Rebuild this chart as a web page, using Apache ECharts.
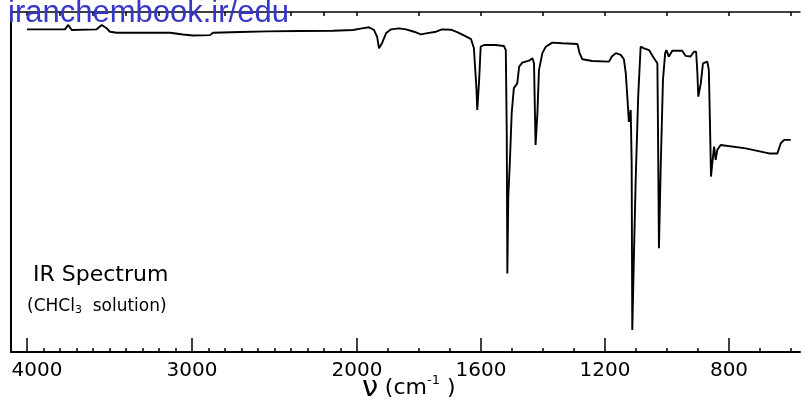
<!DOCTYPE html>
<html>
<head>
<meta charset="utf-8">
<script src="https://cdn.jsdelivr.net/npm/echarts@6/dist/echarts.min.js"></script>
<style>
    html, body { margin: 0; padding: 0; background: #fff; }
    #chart { width: 803px; height: 415px; }
</style>
</head>
<body>
<div id="chart"></div>
<script>
    // 光谱数据: 波数 (cm-1) 与 透过率 (%)
    var wavenumbers = [
        4000, 3770, 3750, 3729, 3721, 3578, 3547, 3517, 3497, 3456,
        3297, 3133, 3055, 2994, 2891, 2873, 2709, 2545, 2345, 2145,
        2024, 1984, 1961, 1945, 1935, 1929, 1919, 1906, 1890, 1865,
        1842, 1816, 1794, 1777, 1745, 1726, 1697, 1677, 1655, 1632,
        1623, 1615, 1612, 1606, 1601, 1590, 1553, 1526, 1520, 1517,
        1515, 1512, 1507, 1501, 1494, 1483, 1477, 1467, 1445, 1434,
        1429, 1426, 1424, 1418, 1413, 1402, 1391, 1370, 1338, 1289,
        1282, 1273, 1241, 1187, 1178, 1165, 1149, 1139, 1133, 1128,
        1123, 1117, 1114, 1112, 1106, 1101, 1093, 1085, 1074, 1058,
        1042, 1031, 1029, 1026, 1020, 1013, 1006, 1002, 994, 983,
        951, 940, 924, 913, 906, 902, 899, 891, 884, 870,
        865, 861, 858, 854, 848, 843, 838, 827, 746, 671,
        644, 633, 622, 601
    ];
    var transmittance = [
        94.9, 94.9, 96.2, 94.7, 94.4, 94.9, 96.2, 95.2, 94.2, 93.9,
        93.9, 93.9, 93.4, 93.1, 93.2, 93.9, 94.1, 94.3, 94.4, 94.5,
        94.7, 95.2, 95.5, 94.7, 92.7, 89.3, 90.9, 93.8, 94.9, 95.2,
        94.9, 94.2, 93.4, 93.7, 94.2, 94.9, 94.8, 94.1, 93.1, 92.0,
        89.4, 78.0, 71.2, 80.0, 89.8, 90.3, 90.3, 90.0, 88.8, 65.3,
        23.1, 45.7, 55.6, 70.3, 77.6, 79.0, 83.9, 85.1, 85.7, 86.4,
        84.9, 70.3, 60.9, 70.3, 82.9, 87.9, 89.8, 91.0, 90.8, 90.6,
        87.9, 86.1, 85.6, 85.4, 86.9, 87.9, 87.4, 86.1, 82.0, 75.1,
        67.7, 71.2, 55.6, 6.5, 31.0, 50.6, 75.1, 89.8, 89.3, 88.8,
        86.4, 84.9, 65.3, 30.5, 55.6, 80.0, 87.9, 88.8, 86.9, 88.6,
        88.6, 87.1, 86.9, 88.3, 88.3, 82.0, 75.1, 79.0, 84.9, 85.4,
        82.9, 65.3, 51.6, 55.5, 60.4, 56.5, 59.4, 60.9, 59.9, 58.4,
        58.4, 61.4, 62.4, 62.4
    ];
    var majorTicks = [4000, 3000, 2000, 1600, 1200, 800];

    // 横轴分段: 4000-2000 压缩, 2000以下展开
    function pos(wn) {
        return wn >= 2000 ? (4000 - wn) * 0.165 : 330 + (2000 - wn) * 0.31;
    }

    var majorPos = majorTicks.map(pos);
    var minorPos = [], topPos = [];
    for (var w = 3900; w >= 600; w -= 100) minorPos.push(pos(w));
    for (var w2 = 4000; w2 >= 600; w2 -= 200) topPos.push(pos(w2));

    var lineData = wavenumbers.map(function(wn, i) {
        return [pos(wn), transmittance[i]];
    });

    var xMin = -16, xMax = 773;
    var black = '#000';

    var myChart = echarts.init(document.getElementById('chart'));
    var option = {
        animation: false,
        grid: { left: 11, right: 3, top: 12, bottom: 63 },
        xAxis: [{
            type: 'value', position: 'bottom', min: xMin, max: xMax,
            axisLine: { show: true, onZero: false, lineStyle: { color: black, width: 2 } },
            axisTick: { show: true, inside: true, length: 14, customValues: majorPos,
                lineStyle: { color: black, width: 1.5 } },
            axisLabel: {
                show: true, customValues: majorPos, margin: 9,
                color: black, fontFamily: 'DejaVu Sans', fontSize: 20,
                formatter: function(v) {
                    for (var i = 0; i < majorPos.length; i++) {
                        if (Math.abs(majorPos[i] - v) < 0.5) {
                            return i === 0 ? '{a|' + majorTicks[i] + '}' : String(majorTicks[i]);
                        }
                    }
                    return '';
                },
                rich: { a: { fontFamily: 'DejaVu Sans', fontSize: 20, color: black, padding: [0, 0, 0, 20] } }
            },
            splitLine: { show: false }
        }, {
            type: 'value', position: 'bottom', min: xMin, max: xMax,
            axisLine: { show: false, onZero: false },
            axisTick: { show: true, inside: true, length: 4, customValues: minorPos,
                lineStyle: { color: black, width: 1.5 } },
            axisLabel: { show: false },
            splitLine: { show: false }
        }, {
            type: 'value', position: 'top', min: xMin, max: xMax,
            axisLine: { show: true, onZero: false, lineStyle: { color: black, width: 1.5 } },
            axisTick: { show: true, inside: true, length: 4, customValues: topPos,
                lineStyle: { color: black, width: 1.5 } },
            axisLabel: { show: false },
            splitLine: { show: false }
        }],
        yAxis: {
            type: 'value', min: 0, max: 100,
            axisLine: { show: true, onZero: false, lineStyle: { color: black, width: 2 } },
            axisTick: { show: false },
            axisLabel: { show: false },
            splitLine: { show: false }
        },
        series: [{
            type: 'line',
            xAxisIndex: 0,
            data: lineData,
            showSymbol: false,
            lineStyle: { color: black, width: 1.9 },
            z: 3
        }],
        graphic: [{
            type: 'text', left: 8, top: -2, z: 10,
            style: { text: 'iranchembook.ir/edu', fill: '#3636c8',
                font: '31px "Liberation Sans", Arial, sans-serif' }
        }, {
            type: 'text', left: 33, top: 264,
            style: { text: 'IR Spectrum', fill: black,
                font: '22px "DejaVu Sans", sans-serif' }
        }, {
            type: 'text', left: 27, top: 298,
            style: {
                text: '{t|(CHCl}{s|3}{t|  solution)}',
                rich: {
                    t: { fontFamily: 'DejaVu Sans', fontSize: 17, color: black },
                    s: { fontFamily: 'DejaVu Sans', fontSize: 11, color: black, verticalAlign: 'bottom', padding: [8, 0, 0, 0] }
                }
            }
        }, {
            type: 'text', left: 362, top: 374,
            style: {
                text: '{n|ν}  {c|(cm}{s|-1}{c| )}',
                rich: {
                    n: { fontFamily: 'DejaVu Sans', fontSize: 29, color: black },
                    c: { fontFamily: 'DejaVu Sans', fontSize: 22, color: black },
                    s: { fontFamily: 'DejaVu Sans', fontSize: 13, color: black, verticalAlign: 'top', padding: [0, 0, 10, 0] }
                }
            }
        }]
    };
    myChart.setOption(option);
</script>
</body>
</html>
